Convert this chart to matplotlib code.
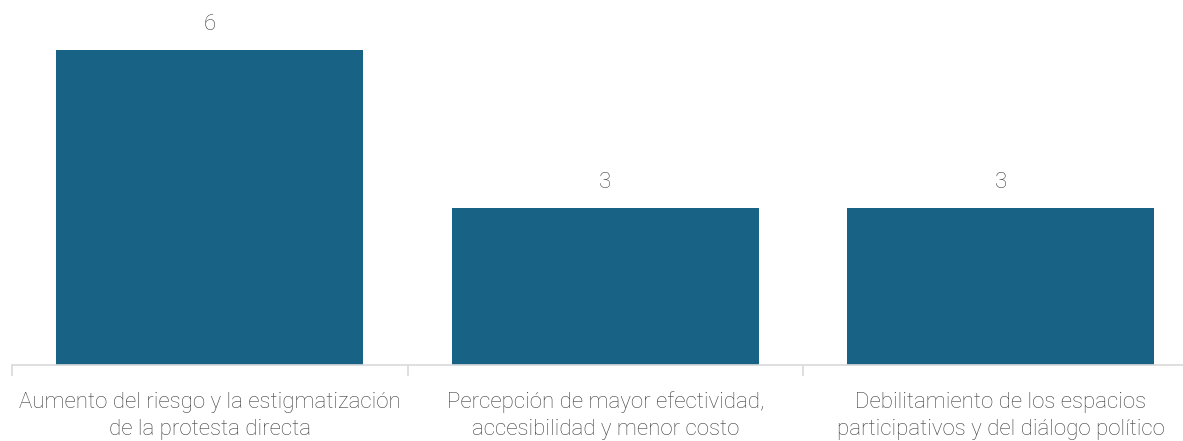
import matplotlib
matplotlib.use("Agg")
import matplotlib.pyplot as plt

categories = [
    "Aumento del riesgo y la estigmatización\nde la protesta directa",
    "Percepción de mayor efectividad,\naccesibilidad y menor costo",
    "Debilitamiento de los espacios\nparticipativos y del diálogo político",
]
values = [6, 3, 3]

bar_color = "#186285"
text_color = "#404040"
axis_color = "#d9d9d9"
font = ["Roboto", "DejaVu Sans"]
fsize = 16

W, H = 1183, 441
fig = plt.figure(figsize=(W / 100, H / 100), dpi=100)
# axes spans from the first category tick to the last one (just past the right edge)
left_px, right_px = 12, 1198.5
base_px, top_px = 365, 50
ax = fig.add_axes([left_px / W, (H - base_px) / H,
                   (right_px - left_px) / W, (base_px - top_px) / H])

x = list(range(len(values)))
ax.bar(x, values, width=0.777, color=bar_color, zorder=2)
ax.set_xlim(-0.5, len(values) - 0.5)
ax.set_ylim(0, max(values))

# value labels above each bar
for xi, v in zip(x, values):
    ax.annotate(f"{v}", (xi, v), xytext=(0, 20), textcoords="offset pixels",
                ha="center", va="baseline", fontsize=fsize, color=text_color,
                family=font, fontweight="light", annotation_clip=False)

# category labels below the axis (baseline of the last line)
for xi, label in zip(x, categories):
    ax.annotate(label, (xi, 0), xycoords=("data", "axes fraction"),
                xytext=(0, -70), textcoords="offset pixels",
                ha="center", va="baseline", multialignment="center",
                fontsize=fsize, color=text_color, family=font,
                fontweight="light", linespacing=1.39, annotation_clip=False)

for s in ["top", "right", "left"]:
    ax.spines[s].set_visible(False)
ax.spines["bottom"].set_color(axis_color)
ax.spines["bottom"].set_linewidth(1.2)
ax.set_yticks([])

ax.set_xticks([-0.5 + i for i in range(len(values) + 1)])
ax.set_xticklabels([])
ax.tick_params(axis="x", length=8, width=1.2, color=axis_color)

fig.savefig("out.png", dpi=100)
